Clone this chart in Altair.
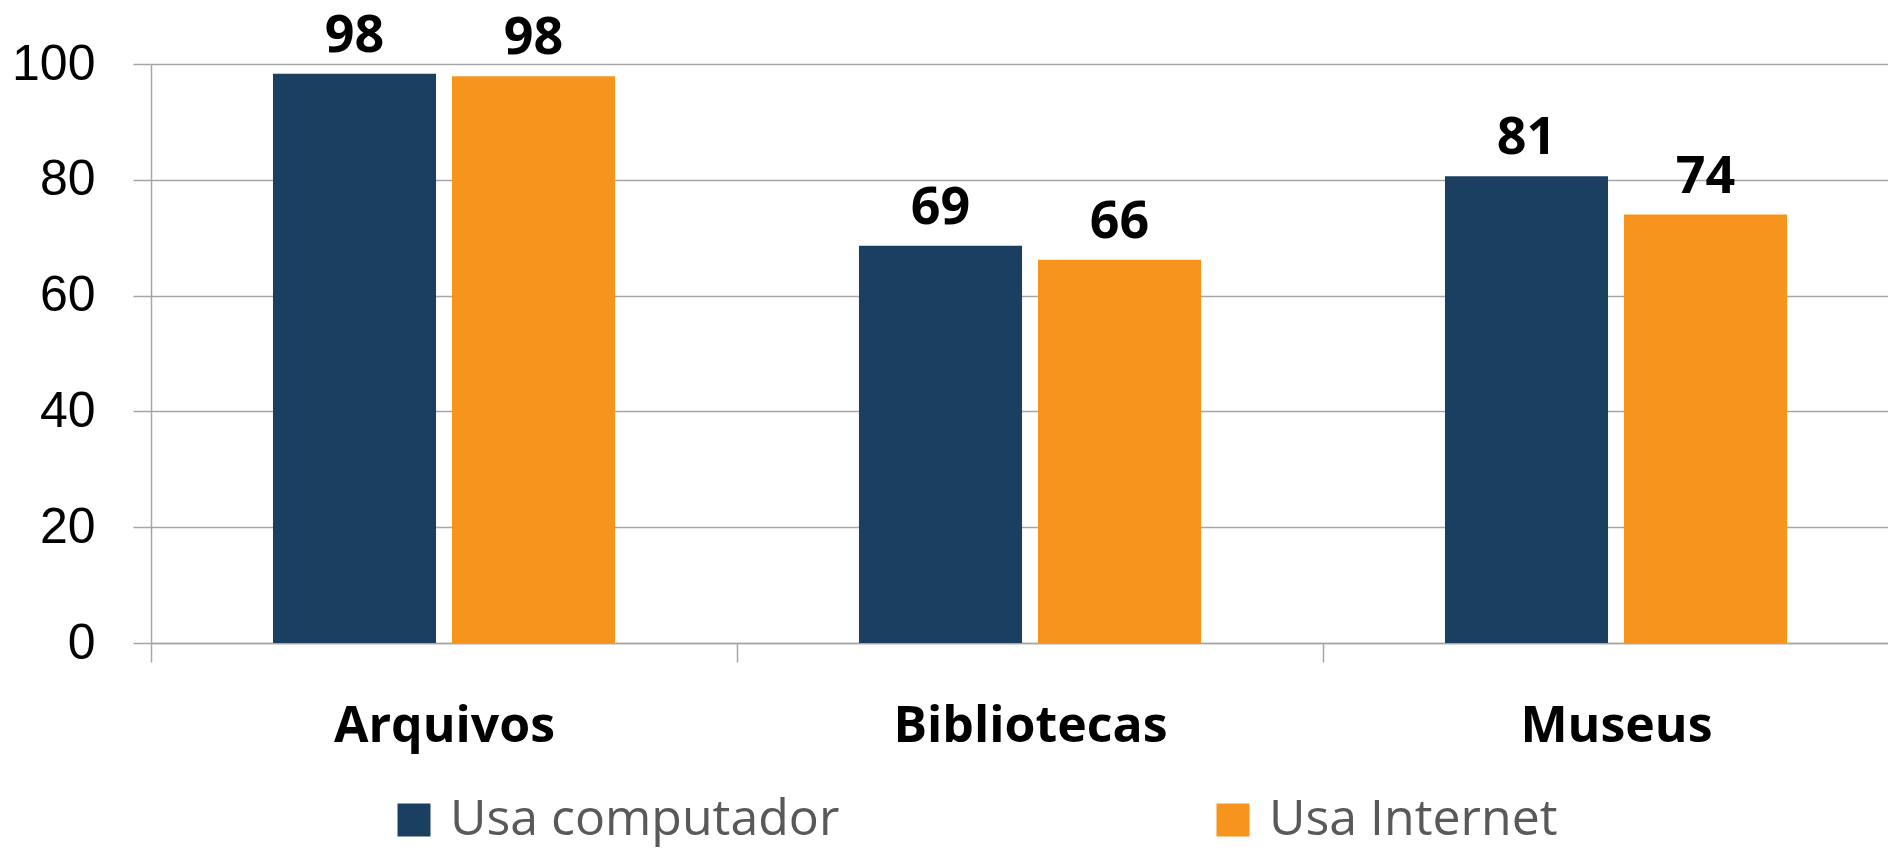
import altair as alt
import pandas as pd

categorias = ["Arquivos", "Bibliotecas", "Museus"]
series = ["Usa computador", "Usa Internet"]
usa_computador = [98.3, 68.6, 80.6]
usa_internet = [97.9, 66.2, 74.0]
cores = ["#1B3F61", "#F7941D"]
y_ticks = [0, 20, 40, 60, 80, 100]

rows = []
for c, v1, v2 in zip(categorias, usa_computador, usa_internet):
    rows.append({"categoria": c, "serie": series[0], "valor": v1})
    rows.append({"categoria": c, "serie": series[1], "valor": v2})
df = pd.DataFrame(rows)

grid_gray = "#A6A6A6"

x_enc = alt.X(
    "categoria:N",
    sort=categorias,
    scale=alt.Scale(paddingInner=0, paddingOuter=0, range=[0, 1758]),
    axis=alt.Axis(
        title=None,
        labelAngle=0,
        labelFont="Open Sans",
        labelFontWeight="bold",
        labelFontSize=50,
        labelColor="#000000",
        labelBaseline="alphabetic",
        labelPadding=79,
        labelLimit=1000,
        tickBand="extent",
        tickSize=19,
        tickColor=grid_gray,
        tickWidth=1.5,
        domainColor=grid_gray,
        domainWidth=1.5,
        grid=False,
    ),
)
xoff_enc = alt.XOffset(
    "serie:N", sort=series, scale=alt.Scale(paddingInner=0.089, paddingOuter=0.6815)
)
y_enc = alt.Y(
    "valor:Q",
    scale=alt.Scale(domain=[0, 100], nice=False),
    axis=alt.Axis(
        title=None,
        values=y_ticks,
        labelFont="Liberation Sans",
        labelFontSize=50,
        labelColor="#000000",
        labelPadding=38,
        tickSize=18,
        tickColor=grid_gray,
        tickWidth=1.5,
        domainColor=grid_gray,
        domainWidth=1.5,
        gridColor=grid_gray,
        gridWidth=1.5,
    ),
)

bars = alt.Chart(df).mark_bar().encode(
    x=x_enc,
    xOffset=xoff_enc,
    y=y_enc,
    color=alt.Color(
        "serie:N",
        sort=series,
        scale=alt.Scale(domain=series, range=cores),
        legend=alt.Legend(
            title=None,
            orient="none",
            legendX=238,
            legendY=731,
            direction="horizontal",
            symbolType="square",
            symbolSize=1089,
            symbolStrokeWidth=0,
            labelFont="Open Sans",
            labelFontSize=50,
            labelColor="#595959",
            labelOffset=11,
            labelLimit=1000,
            columnPadding=368,
            padding=0,
        ),
    ),
)

labels = alt.Chart(df).mark_text(
    dy=-22,
    baseline="alphabetic",
    align="center",
    font="Open Sans",
    fontSize=52,
    fontWeight="bold",
    color="#000000",
).encode(
    x=alt.X("categoria:N", sort=categorias),
    xOffset=alt.XOffset("serie:N", sort=series),
    y=alt.Y("valor:Q"),
    text=alt.Text("valor:Q", format=".0f"),
)

chart = (
    alt.layer(bars, labels)
    .properties(
        width=1737,
        height=579,
        autosize=alt.AutoSizeParams(type="none"),
        padding={"left": 143, "top": 56, "right": 0, "bottom": 204},
        background="white",
    )
    .configure_view(stroke=None)
)

chart.save("out.html", embed_options={"renderer": "svg", "actions": False})
